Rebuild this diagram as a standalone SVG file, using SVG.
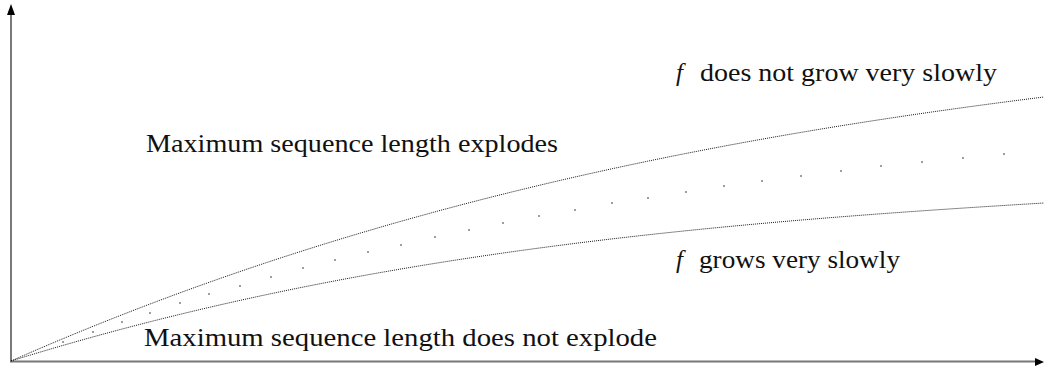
<svg xmlns="http://www.w3.org/2000/svg" width="1044" height="367" viewBox="0 0 1044 367">
<style>
.lbl{font-family:"Liberation Serif","Times New Roman",serif;font-size:25px;fill:#111}
.it{font-style:italic}
.curve{fill:none;stroke:#000;stroke-width:0.9;stroke-dasharray:1 1}
.dot{fill:#222}
</style>
<rect width="1044" height="367" fill="#fff"/>
<g id="axes">
<line x1="11" y1="362" x2="11" y2="14" stroke="#333" stroke-width="1.3"/>
<polygon points="11,4 7,15 15,15" fill="#000"/>
<line x1="10" y1="361.5" x2="1036" y2="361.5" stroke="#777" stroke-width="2"/>
<polygon points="1044,362 1035,358 1035,366" fill="#000"/>
</g>
<g id="connectors">
<path id="upper" class="curve" d="M11,361 C354.7,209.3 699.3,140 1044,97"/>
<path id="lower" class="curve" d="M11,361 C354.7,254.1 699.3,223.7 1044,203"/>
<g id="middle" class="dot">
<circle cx="63" cy="342" r="0.8"/><circle cx="93" cy="332" r="0.8"/><circle cx="122" cy="322" r="0.8"/><circle cx="150" cy="313" r="0.8"/><circle cx="180" cy="303" r="0.8"/><circle cx="209" cy="294" r="0.8"/><circle cx="240" cy="286" r="0.8"/><circle cx="271" cy="277" r="0.8"/><circle cx="303" cy="268" r="0.8"/><circle cx="335" cy="260" r="0.8"/><circle cx="368" cy="252" r="0.8"/><circle cx="401" cy="245" r="0.8"/><circle cx="435" cy="237" r="0.8"/><circle cx="469" cy="230" r="0.8"/><circle cx="503" cy="223" r="0.8"/><circle cx="539" cy="216" r="0.8"/><circle cx="575" cy="210" r="0.8"/><circle cx="612" cy="203" r="0.8"/><circle cx="648" cy="198" r="0.8"/><circle cx="686" cy="192" r="0.8"/><circle cx="724" cy="186" r="0.8"/><circle cx="762" cy="181" r="0.8"/><circle cx="801" cy="176" r="0.8"/><circle cx="841" cy="171" r="0.8"/><circle cx="881" cy="166" r="0.8"/><circle cx="922" cy="162" r="0.8"/><circle cx="963" cy="158" r="0.8"/><circle cx="1004" cy="154" r="0.8"/>
</g>
</g>
<g id="label-explodes">
<text class="lbl" x="146" y="152" textLength="412" lengthAdjust="spacingAndGlyphs">Maximum sequence length explodes</text>
</g>
<g id="label-not-explode">
<text class="lbl" x="144" y="346" textLength="513" lengthAdjust="spacingAndGlyphs">Maximum sequence length does not explode</text>
</g>
<g id="label-not-slow">
<text class="lbl it" x="676" y="81">f</text>
<text class="lbl" x="700" y="81" textLength="297" lengthAdjust="spacingAndGlyphs">does not grow very slowly</text>
</g>
<g id="label-slow">
<text class="lbl it" x="676" y="268">f</text>
<text class="lbl" x="699" y="268" textLength="201" lengthAdjust="spacingAndGlyphs">grows very slowly</text>
</g>
</svg>
